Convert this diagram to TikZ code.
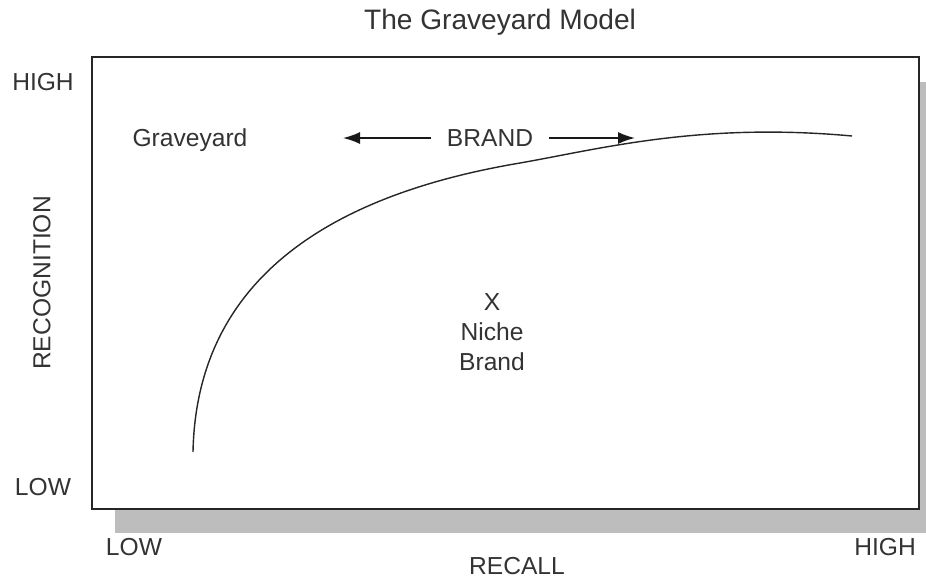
\documentclass[tikz,border=0pt]{standalone}
\usepackage{fontspec}
\setmainfont{Liberation Sans}
\usetikzlibrary{arrows.meta,positioning}

\begin{document}
\begin{tikzpicture}[
  x=0.02cm, y=-0.02cm,
  every node/.style={font=\fontsize{14}{17}\selectfont, text=black!80, inner sep=1pt},
  title/.style={font=\fontsize{16}{19}\selectfont},
  frame/.style={draw=black!85, line width=1.1pt, fill=white},
  shadow/.style={fill=black!26},
  curve/.style={draw=black!85, line width=0.8pt},
  brandarrow/.style={draw=black!90, -{Latex[length=3.4mm, width=2.4mm]}, line width=0.9pt}
]
\useasboundingbox (0,0) rectangle (926,579);
% box with shadow
\fill[shadow] (115,82) rectangle (926,533);
\draw[frame] (92,57) rectangle (919,509);
\node[title] (title) at (500,22) {The Graveyard Model};
% axis labels
\node (yhigh) at (43,82) {HIGH};
\node (ylow) at (43,487) {LOW};
\node[rotate=90] (yaxis) at (42,283) {RECOGNITION};
\node (xlow) at (134,547) {LOW};
\node (xhigh) at (885,547) {HIGH};
\node (xaxis) at (517,566) {RECALL};
% curve
\coordinate (cstart) at (193,452);
\coordinate (cmid) at (520,163);
\coordinate (cend) at (852,136);
\draw[curve] (cstart) .. controls (196,300) and (300,200) .. (cmid)
  .. controls (600,149) and (700,122) .. (cend);
% labels inside
\node (grave) at (190,140) {Graveyard};
\node[outer sep=8pt] (brand) at (490,138) {BRAND};
\coordinate (lefttip) at (343,138);
\coordinate (righttip) at (635,138);
\draw[brandarrow] (brand) -- (lefttip);
\draw[brandarrow] (brand) -- (righttip);
\node[align=center] (niche) at (492,332) {X\\Niche\\Brand};
\end{tikzpicture}
\end{document}
